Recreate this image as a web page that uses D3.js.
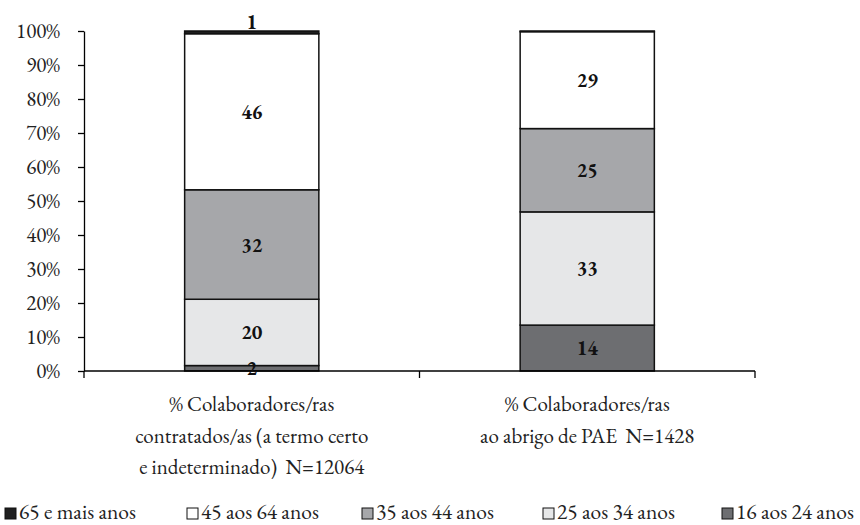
<!DOCTYPE html>
<html>
<head>
<meta charset="utf-8">
<script src="https://cdn.jsdelivr.net/npm/d3@7"></script>
<style>
  body { margin: 0; background: #fff; }
</style>
</head>
<body>
<div id="chart"></div>
<script>
// categories (x axis), each label split in lines
const categories = ["contratados", "pae"];
const categoryLines = [
  ["% Colaboradores/ras", "contratados/as (a termo certo", "e indeterminado)  N=12064"],
  ["% Colaboradores/ras", "ao abrigo de PAE  N=1428"]
];

// series, bottom to top of the stack
const seriesNames = ["16 aos 24 anos", "25 aos 34 anos", "35 aos 44 anos", "45 aos 64 anos", "65 e mais anos"];
const seriesColors = ["#6d6e71", "#e6e7e8", "#a6a7aa", "#ffffff", "#1f1f1f"];

// percentages (labels are the rounded values)
const v16_24 = [1.6, 13.5];
const v25_34 = [19.5, 33.3];
const v35_44 = [32.2, 24.5];
const v45_64 = [45.9, 28.5];
const v65 = [0.8, 0.2];

const yTicks = [0, 10, 20, 30, 40, 50, 60, 70, 80, 90, 100];

// legend order (left to right)
const legendOrder = ["65 e mais anos", "45 aos 64 anos", "35 aos 44 anos", "25 aos 34 anos", "16 aos 24 anos"];
const legendX = [5, 187, 362, 543, 722];

const FONT = "EB Garamond";
const width = 860, height = 525;
const margin = {top: 31, left: 84, right: 105, bottom: 154};

const svg = d3.select("#chart").append("svg")
  .attr("width", width).attr("height", height)
  .attr("font-family", FONT);

const table = categories.map((c, i) => ({
  cat: c,
  "16 aos 24 anos": v16_24[i],
  "25 aos 34 anos": v25_34[i],
  "35 aos 44 anos": v35_44[i],
  "45 aos 64 anos": v45_64[i],
  "65 e mais anos": v65[i]
}));
const rawValues = [v16_24, v25_34, v35_44, v45_64, v65];

const stack = d3.stack().keys(seriesNames)(table);

const x = d3.scaleBand()
  .domain(categories)
  .range([margin.left, width - margin.right])
  .paddingInner(0.6).paddingOuter(0.3);

const xOuter = d3.scaleBand()
  .domain(categories)
  .range([margin.left, width - margin.right]);

const y = d3.scaleLinear()
  .domain([0, 100])
  .range([height - margin.bottom, margin.top]);

const color = d3.scaleOrdinal().domain(seriesNames).range(seriesColors);

// bars
const layers = svg.append("g").selectAll("g")
  .data(stack).join("g")
  .attr("fill", d => color(d.key));

layers.selectAll("rect")
  .data(d => d)
  .join("rect")
  .attr("x", d => x(d.data.cat))
  .attr("width", x.bandwidth())
  .attr("y", d => y(d[1]))
  .attr("height", d => y(d[0]) - y(d[1]))
  .attr("stroke", "#111")
  .attr("stroke-width", 1.5);

// y axis
const yAxis = svg.append("g")
  .attr("transform", `translate(${margin.left},0)`)
  .call(d3.axisLeft(y).tickValues(yTicks).tickFormat(d => d + "%").tickSize(6).tickSizeOuter(0));
yAxis.attr("font-family", FONT).attr("font-size", 21);
yAxis.select(".domain").attr("stroke", "#000").attr("stroke-width", 1.3);
yAxis.selectAll(".tick line").attr("stroke", "#000").attr("stroke-width", 1.3);
yAxis.selectAll(".tick text")
  .attr("x", -24)
  .attr("fill", "#222");

// x axis with tick marks at category boundaries
const xAxis = svg.append("g")
  .attr("transform", `translate(0,${y(0)})`);
xAxis.append("line")
  .attr("x1", margin.left).attr("x2", width - margin.right)
  .attr("stroke", "#000").attr("stroke-width", 1.3);
const bounds = categories.map(c => xOuter(c)).concat([xOuter(categories[categories.length - 1]) + xOuter.bandwidth()]);
xAxis.selectAll(".xt").data(bounds).join("line")
  .attr("x1", d => d).attr("x2", d => d)
  .attr("y1", 0).attr("y2", 7)
  .attr("stroke", "#000").attr("stroke-width", 1.3);

// category labels
categories.forEach((c, i) => {
  const t = svg.append("text")
    .attr("text-anchor", "middle")
    .attr("fill", "#222")
    .attr("font-size", 21);
  categoryLines[i].forEach((line, j) => {
    t.append("tspan")
      .attr("x", x(c) + x.bandwidth() / 2)
      .attr("y", 411 + j * 31.5)
      .style("white-space", "pre")
      .text(line);
  });
});

// data labels
const labels = [];
stack.forEach((s, si) => {
  s.forEach((p, ci) => {
    const val = Math.round(rawValues[si][ci]);
    if (val < 1) return;
    const top = si === stack.length - 1;
    labels.push({
      x: x(p.data.cat) + x.bandwidth() / 2,
      y: top ? y(p[1]) - 9 : y((p[0] + p[1]) / 2),
      text: val
    });
  });
});
svg.append("g").selectAll("text")
  .data(labels).join("text")
  .attr("x", d => d.x)
  .attr("y", d => d.y)
  .attr("dy", "0.35em")
  .attr("text-anchor", "middle")
  .attr("font-weight", "bold")
  .attr("fill", "#111")
  .attr("font-size", 20)
  .text(d => d.text);

// legend
const legend = svg.append("g").selectAll("g")
  .data(legendOrder).join("g")
  .attr("transform", (d, i) => `translate(${legendX[i]},508)`);
legend.append("rect")
  .attr("width", 11).attr("height", 11)
  .attr("fill", d => color(d))
  .attr("stroke", "#111").attr("stroke-width", 1);
legend.append("text")
  .attr("x", 14).attr("y", 11)
  .attr("fill", "#222")
  .attr("font-size", 21.5)
  .text(d => d);
</script>
</body>
</html>
